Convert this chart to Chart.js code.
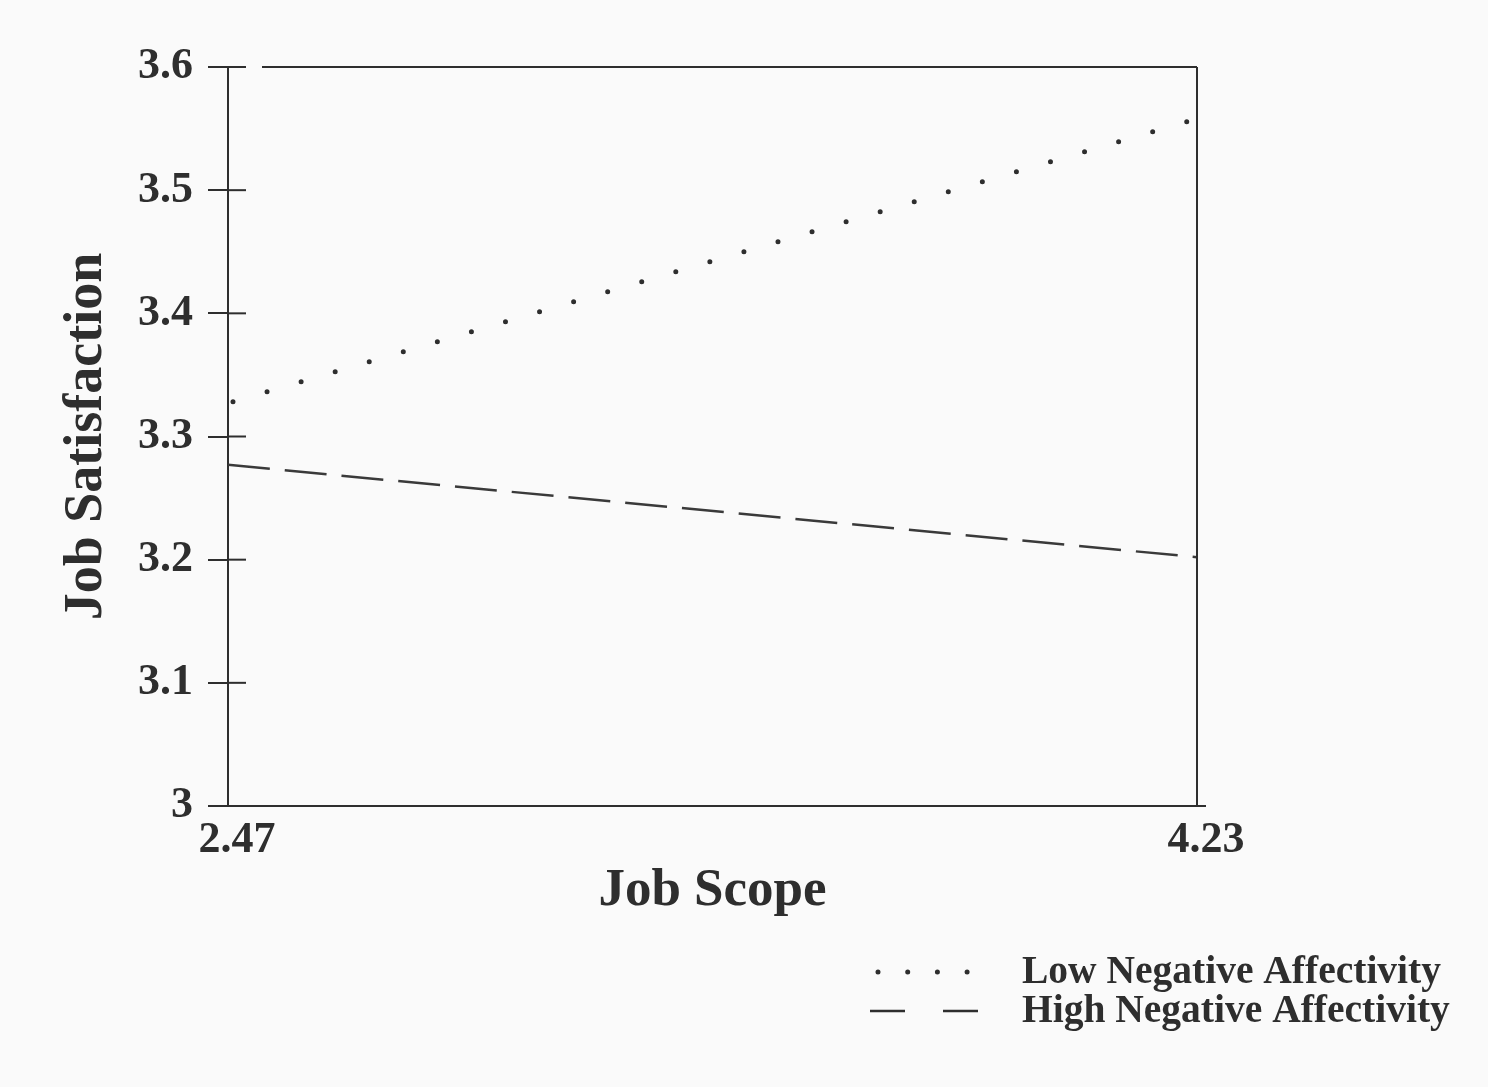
<!DOCTYPE html>
<html>
<head>
<meta charset="utf-8">
<script src="https://cdn.jsdelivr.net/npm/chart.js@4.4.1/dist/chart.umd.min.js"></script>
<style>
  html, body { margin: 0; padding: 0; background: #fafafa; }
  #wrap { width: 1488px; height: 1087px; position: relative; }
</style>
</head>
<body>
<div id="wrap"><canvas id="c"></canvas></div>
<script>
// ---- data ----
const xValues = [2.47, 4.23];
const xTickLabels = ['2.47', '4.23'];
const lowNA = [3.327, 3.558];
const highNA = [3.277, 3.202];
const seriesNames = ['Low Negative Affectivity', 'High Negative Affectivity'];
const yMin = 3, yMax = 3.6, yStep = 0.1;
const xTitle = 'Job Scope';
const yTitle = 'Job Satisfaction';

const INK = '#2e2e2e';
const SERIF = '"Liberation Serif", "DejaVu Serif", serif';

const framePlugin = {
  id: 'frame',
  beforeDraw(chart) {
    const ctx = chart.ctx;
    ctx.save();
    ctx.fillStyle = '#fafafa';
    ctx.fillRect(0, 0, chart.width, chart.height);
    ctx.restore();
  },
  afterDraw(chart) {
    const ctx = chart.ctx;
    const a = chart.chartArea;
    const ys = chart.scales.y;
    ctx.save();
    ctx.strokeStyle = INK;
    ctx.lineWidth = 2;
    // inner part of crossing ticks
    ys.ticks.forEach(t => {
      const py = ys.getPixelForValue(t.value);
      if (Math.abs(t.value - yMin) < 1e-9) return;
      ctx.beginPath();
      ctx.moveTo(a.left, py);
      ctx.lineTo(a.left + 18, py);
      ctx.stroke();
    });
    // top border with gap
    ctx.beginPath();
    ctx.moveTo(a.left + 34, a.top);
    ctx.lineTo(a.right, a.top);
    ctx.stroke();
    // right border
    ctx.beginPath();
    ctx.moveTo(a.right, a.top);
    ctx.lineTo(a.right, a.bottom);
    ctx.stroke();
    // bottom axis extension
    ctx.beginPath();
    ctx.moveTo(a.right - 2, a.bottom);
    ctx.lineTo(a.right + 9, a.bottom);
    ctx.stroke();

    // legend
    const ds = chart.data.datasets;
    const textX = 1022;
    const rows = [983, 1022];
    ctx.font = 'bold 39.5px ' + SERIF;
    ctx.fillStyle = INK;
    ctx.textBaseline = 'alphabetic';
    ctx.textAlign = 'left';
    // dotted sample
    ctx.lineCap = 'round';
    ctx.lineWidth = ds[0].borderWidth;
    ctx.setLineDash([0, 29.7]);
    ctx.beginPath();
    ctx.moveTo(878, rows[0] - 11);
    ctx.lineTo(968, rows[0] - 11);
    ctx.stroke();
    ctx.fillText(seriesNames[0], textX, rows[0]);
    // dashed sample
    ctx.lineCap = 'butt';
    ctx.lineWidth = ds[1].borderWidth;
    ctx.setLineDash([35, 38]);
    ctx.beginPath();
    ctx.moveTo(870, rows[1] - 11);
    ctx.lineTo(978, rows[1] - 11);
    ctx.stroke();
    ctx.setLineDash([]);
    ctx.fillText(seriesNames[1], textX, rows[1]);
    ctx.restore();
  }
};

new Chart(document.getElementById('c'), {
  type: 'line',
  data: {
    datasets: [
      {
        label: seriesNames[0],
        data: xValues.map((x, i) => ({ x, y: lowNA[i] })),
        borderColor: INK,
        borderWidth: 5,
        borderDash: [0, 35.5],
        borderDashOffset: 30.3,
        borderCapStyle: 'round',
        pointRadius: 0,
        fill: false,
        tension: 0
      },
      {
        label: seriesNames[1],
        data: xValues.map((x, i) => ({ x, y: highNA[i] })),
        borderColor: '#3a3a3a',
        borderWidth: 2.5,
        borderDash: [42, 15],
        pointRadius: 0,
        fill: false,
        tension: 0
      }
    ]
  },
  options: {
    responsive: true,
    maintainAspectRatio: false,
    devicePixelRatio: 1,
    animation: false,
    layout: { padding: { left: 0, top: 67, right: 291, bottom: 164 } },
    plugins: {
      legend: { display: false },
      tooltip: { enabled: false }
    },
    scales: {
      x: {
        type: 'linear',
        min: xValues[0],
        max: xValues[xValues.length - 1],
        afterBuildTicks(scale) {
          scale.ticks = xValues.map(v => ({ value: v }));
        },
        afterFit(scale) { scale.height = 117; },
        grid: { display: false },
        border: { display: true, color: INK, width: 2 },
        ticks: {
          color: INK,
          font: { family: SERIF, size: 44, weight: 'bold' },
          padding: 0,
          labelOffset: 9,
          maxRotation: 0,
          callback: (v) => xTickLabels[xValues.indexOf(v)] ?? v.toFixed(2)
        },
        title: {
          display: true,
          text: xTitle,
          color: INK,
          font: { family: SERIF, size: 53, weight: 'bold' },
          padding: { top: 0, bottom: 0 }
        }
      },
      y: {
        min: yMin,
        max: yMax,
        afterFit(scale) { scale.width = 228; },
        grid: { drawOnChartArea: false, drawTicks: true, tickLength: 20, color: INK, lineWidth: 2 },
        border: { display: true, color: INK, width: 2 },
        ticks: {
          stepSize: yStep,
          color: INK,
          font: { family: SERIF, size: 44, weight: 'bold' },
          padding: 15,
          callback: (v) => Math.abs(v - yMin) < 1e-9 ? '3' : v.toFixed(1)
        },
        title: {
          display: true,
          text: yTitle,
          color: INK,
          font: { family: SERIF, size: 54, weight: 'bold' },
          padding: { top: 55, bottom: 0 }
        }
      }
    }
  },
  plugins: [framePlugin]
});
</script>
</body>
</html>
